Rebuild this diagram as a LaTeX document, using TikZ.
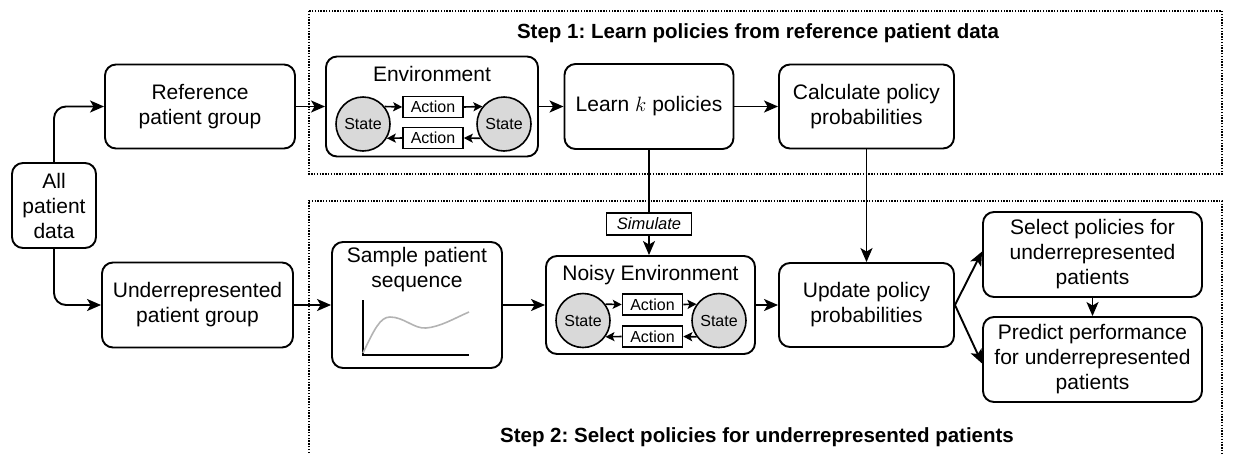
\documentclass[tikz,border=0pt]{standalone}
\usepackage{fontspec}
\setmainfont{Liberation Sans}
\usetikzlibrary{arrows.meta}
\definecolor{stategray}{HTML}{D9D9D9}
\definecolor{curvegray}{HTML}{B3B3B3}
\frenchspacing
\begin{document}
\begin{tikzpicture}[x=1pt,y=-1pt,
  box/.style={draw,line width=1.9pt,rounded corners=11pt,align=center,inner sep=0pt,font=\fontsize{21}{25}\selectfont},
  plain/.style={align=center,inner sep=0pt,font=\fontsize{21}{25}\selectfont},
  statenode/.style={circle,draw,line width=1.6pt,fill=stategray,minimum size=54pt,inner sep=0pt,font=\fontsize{16}{19}\selectfont},
  actnode/.style={draw,line width=1.6pt,fill=white,minimum width=60pt,minimum height=21pt,inner sep=0pt,font=\fontsize{16}{19}\selectfont},
  arr/.style={-{Stealth[length=14pt,width=12pt,inset=3.5pt]},line width=1.9pt},
  sarr/.style={-{Stealth[length=9pt,width=9pt,inset=2pt]},line width=1.6pt},
  region/.style={line width=1.4pt,dash pattern=on 1.4pt off 1.4pt},
  title/.style={inner sep=0pt,font=\fontsize{20.5}{24}\selectfont\bfseries}
]
\useasboundingbox (0,0) rectangle (1238,453);

% regions
\draw[region] (309,11) rectangle (1222,174);
\draw[region] (309,453) -- (309,201) -- (1222,201) -- (1222,453);
\node[title] (t1) at (758,33) {Step 1: Learn policies from reference patient data};
\node[title] (t2) at (757,437) {Step 2: Select policies for underrepresented patients};

% left side
\node[box,minimum width=84pt,minimum height=85pt] (all) at (54,205.5) {All\\patient\\data};
\node[box,minimum width=190pt,minimum height=84pt] (ref) at (200,106.5) {Reference\\patient group};
\node[box,minimum width=191pt,minimum height=85pt] (under) at (197.5,305) {Underrepresented\\patient group};

% environment
\node[box,minimum width=212pt,minimum height=100pt] (env) at (432,106.5) {};
\node[plain] (envt) at (432,74) {Environment};
\node[statenode] (s1) at (363,124) {State};
\node[statenode] (s2) at (504,124) {State};
\node[actnode] (a1) at (433,107) {Action};
\node[actnode] (a2) at (433,138) {Action};
\draw[sarr] (s1.39) -- (a1.west);
\draw[sarr] (a1.east) -- (s2.141);
\draw[sarr] (s2.211) -- (a2.east);
\draw[sarr] (a2.west) -- (s1.329);

\node[box,minimum width=169pt,minimum height=85pt] (learn) at (649,106.5) {Learn $k$ policies};
\node[box,minimum width=175pt,minimum height=84pt] (calc) at (866.5,106.5) {Calculate policy\\probabilities};

% sample
\node[box,minimum width=170pt,minimum height=126pt] (sample) at (417,305) {};
\node[plain] (samplet) at (417,270) {Sample patient\\sequence};
\draw[line width=1.9pt] (363,300) -- (363,355) -- (469,355);
\draw[curvegray,line width=1.6pt] (363,353) .. controls (374,330) and (380,317) .. (390,317)
  .. controls (404,317) and (414,329) .. (426,328)
  .. controls (440,327) and (455,318) .. (469,312);

% noisy environment
\node[box,minimum width=209pt,minimum height=98pt] (noisy) at (650.5,305) {};
\node[plain] (noisyt) at (650.5,275) {Noisy Environment};
\node[statenode] (n1) at (583,320.5) {State};
\node[statenode] (n2) at (719,320.5) {State};
\node[actnode] (b1) at (652.5,304.5) {Action};
\node[actnode] (b2) at (652.5,336.5) {Action};
\draw[sarr] (n1.36) -- (b1.west);
\draw[sarr] (b1.east) -- (n2.144);
\draw[sarr] (n2.216) -- (b2.east);
\draw[sarr] (b2.west) -- (n1.324);

\node[box,minimum width=175pt,minimum height=84pt] (update) at (866.5,305) {Update policy\\probabilities};
\node[box,minimum width=219pt,minimum height=85pt] (select) at (1092.5,254.5) {Select policies for\\underrepresented\\patients};
\node[box,minimum width=219pt,minimum height=85pt] (predict) at (1092.5,359.5) {Predict performance\\for underrepresented\\patients};

\node[draw,line width=1.6pt,fill=white,minimum width=85pt,minimum height=22pt,inner sep=0pt,font=\fontsize{16.5}{19}\selectfont\itshape] (sim) at (649,224) {Simulate};

% connectors
\draw[arr,rounded corners=12pt] (all.north) |- (ref.west);
\draw[arr,rounded corners=12pt] (all.south) |- (under.west);
\draw[arr] (ref.east) -- (env.west);
\draw[arr] (env.east) -- (learn.west);
\draw[arr] (learn.east) -- (calc.west);
\draw[line width=1.9pt] (learn.south) -- (sim.north);
\draw[arr] (sim.south) -- (sim.south |- noisy.north);
\draw[arr] (calc.south) -- (update.north);
\draw[arr] (under.east) -- (sample.west);
\draw[arr] (sample.east) -- (noisy.west);
\draw[arr] (noisy.east) -- (update.west);
\draw[arr] (update.east) -- ([yshift=3pt]select.west);
\draw[arr] (update.east) -- ([yshift=-4pt]predict.west);
\draw[arr] (select.south) -- (predict.north);
\end{tikzpicture}
\end{document}
